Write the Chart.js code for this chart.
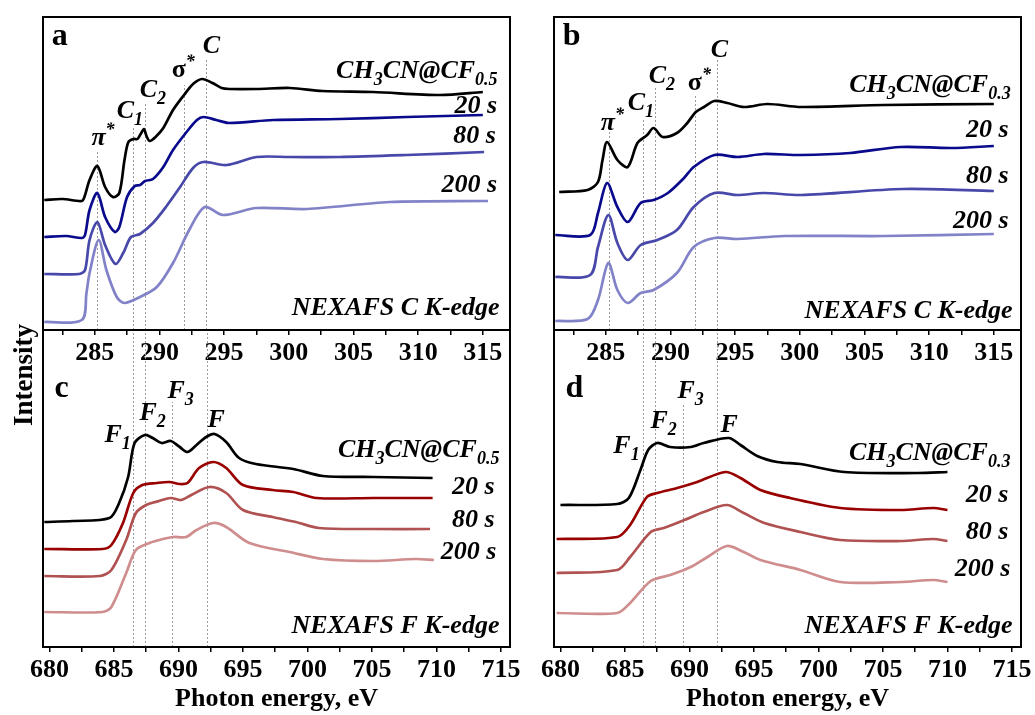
<!DOCTYPE html>
<html>
<head>
<meta charset="utf-8">
<script src="https://cdn.jsdelivr.net/npm/chart.js@4.4.1/dist/chart.umd.min.js"></script>
<style>
  html, body { margin: 0; padding: 0; background: #fff; }
  #wrap { position: relative; width: 1035px; height: 715px; overflow: hidden; }
  canvas { position: absolute; }
  #ylab {
    position: absolute; left: -77px; top: 360px; width: 200px; height: 30px;
    line-height: 30px; text-align: center; transform: rotate(-90deg);
    font: bold 27px "Liberation Serif", "Times New Roman", serif; color: #000;
  }
</style>
</head>
<body>
<div id="wrap">
  <canvas id="pa" width="520" height="372" style="left:0;top:0"></canvas>
  <canvas id="pb" width="524" height="372" style="left:511px;top:0"></canvas>
  <canvas id="pc" width="540" height="395" style="left:0;top:320px"></canvas>
  <canvas id="pd" width="524" height="395" style="left:511px;top:320px"></canvas>
  <div id="ylab">Intensity</div>
</div>
<script>
const SERIF = '"Liberation Serif", "Times New Roman", serif';

/* ── x ticks (eV), only multiples of 5 get a label ── */
const C_TICKS = [282.5, 285, 287.5, 290, 292.5, 295, 297.5, 300, 302.5, 305, 307.5, 310, 312.5, 315];
const F_TICKS = [680, 682.5, 685, 687.5, 690, 692.5, 695, 697.5, 700, 702.5, 705, 707.5, 710, 712.5, 715];

/* ── spectra: [photon energy eV, intensity a.u. (stacked offsets)] ── */
// a: C K-edge, CH3CN@CF0.5
const A_REF = [[281.1,130],[282.5,131],[284.0,129],[284.2,133],[284.6,150],[285.2,164],[285.8,143],[286.4,133],[286.9,137],[287.3,170],[287.6,188],[288.0,191],[288.3,191],[288.55,196],[288.8,201],[289.0,194],[289.25,189],[289.7,193],[290.3,202],[291.05,220],[291.9,235],[292.6,246],[293.3,251],[294.1,247],[294.8,242],[295.4,241],[297.5,241],[300.1,242],[302.6,239],[306.5,238],[311.7,235],[315.0,238]];
const A_20 = [[281.1,93],[282.8,94],[284.0,92],[284.25,95],[284.6,120],[285.2,137],[285.8,113],[286.55,98],[286.9,103],[287.5,133],[288.1,144],[288.5,145],[288.9,149],[289.5,151],[290.3,163],[291.05,180],[292.1,198],[292.9,210],[293.4,213],[294.4,210],[295.4,207],[298.8,210],[303.9,211],[309.1,213],[315.0,215]];
const A_80 = [[281.1,56],[283.8,56],[284.25,60],[284.6,90],[285.2,108],[285.8,85],[286.6,66],[287.2,77],[287.8,93],[288.5,96],[289.5,107],[290.5,123],[291.6,143],[292.6,162],[293.4,168],[295.2,165],[297.5,173],[300.1,173],[303.9,173],[309.1,175],[315.1,178]];
const A_200 = [[281.1,8],[284.0,10],[284.36,37],[284.6,57],[285.3,90],[285.9,60],[286.7,33],[287.3,27],[288.5,33],[289.8,43],[291.05,67],[292.3,100],[293.5,123],[294.9,115],[297.5,122],[301.4,121],[307.8,128],[315.4,129]];

// b: C K-edge, CH3CN@CF0.3
const B_REF = [[281.4,138],[283.6,140],[284.4,148],[284.75,170],[285.1,188],[285.9,170],[286.7,163],[287.45,187],[288.2,195],[288.7,202],[289.4,193],[290.5,197],[291.3,207],[291.96,218],[292.6,223],[293.4,229],[294.4,227],[295.7,223],[297.5,226],[300.1,223],[306.5,225],[315.0,226]];
const B_20 = [[281.1,95],[283.8,95],[284.4,117],[285.1,147],[285.9,123],[286.7,108],[287.7,127],[288.7,130],[289.8,137],[291.05,152],[291.8,163],[293.4,175],[295.2,173],[297.2,176],[300.1,175],[303.9,177],[307.8,183],[311.7,182],[315.0,184]];
const B_80 = [[281.1,53],[283.8,55],[284.4,83],[285.2,115],[285.9,87],[286.7,70],[287.7,85],[289.0,90],[290.5,100],[291.8,123],[293.4,137],[295.2,135],[297.2,137],[300.1,135],[308.0,141],[315.0,139]];
const B_200 = [[281.1,9],[283.6,11],[284.4,30],[285.2,67],[285.9,40],[286.7,27],[287.7,37],[288.7,40],[290.5,57],[291.8,83],[293.4,92],[295.2,91],[298.8,94],[306.5,94],[315.0,96]];

// c: F K-edge, CH3CN@CF0.5
const C_REF = [[679.6,125],[681.8,126],[684.65,129],[685.4,144],[686.1,170],[686.6,204],[687.4,212],[688.0,209],[688.7,204],[689.4,206],[690.1,200],[690.7,195],[691.4,202],[692.15,210],[692.8,213],[693.7,205],[694.7,189],[696.0,183],[698.9,178],[701.2,171],[705.1,170],[709.7,169]];
const C_20 = [[679.6,98],[684.1,98],[684.8,102],[685.7,124],[686.5,154],[687.2,162],[688.3,164],[689.3,165],[690.1,163],[690.7,164],[691.6,179],[692.7,185],[693.7,179],[695.0,162],[697.3,157],[698.9,155],[700.7,149],[705.1,149],[709.7,149]];
const C_80 = [[679.6,71],[683.9,71],[684.8,77],[685.95,107],[686.7,134],[687.5,142],[688.5,146],[689.4,149],[690.2,147],[691.0,152],[692.4,160],[693.7,154],[695.0,137],[697.3,130],[699.1,125],[700.9,119],[705.1,118],[709.5,118]];
const C_200 = [[679.6,35],[684.1,35],[684.8,40],[685.95,74],[686.7,97],[687.75,104],[688.8,108],[689.6,110],[690.6,110],[691.4,117],[692.7,124],[693.7,120],[695.5,104],[698.6,95],[701.2,88],[705.1,86],[708.4,88],[709.8,87]];

// d: F K-edge, CH3CN@CF0.3
const D_REF = [[680.0,142],[684.4,143],[685.3,149],[686.2,177],[686.8,197],[687.5,204],[688.5,200],[690.1,200],[691.1,204],[693.05,209],[693.95,202],[695.25,191],[696.8,185],[698.6,183],[702.0,175],[707.7,174],[710.0,175]];
const D_20 = [[679.7,108],[684.4,110],[685.4,122],[686.7,150],[687.5,154],[689.05,159],[690.6,165],[692.8,175],[693.95,169],[695.5,157],[697.8,149],[701.7,139],[706.4,137],[708.9,139],[710.0,137]];
const D_80 = [[679.7,74],[684.4,77],[685.4,90],[687.0,115],[688.0,119],[689.6,127],[691.1,135],[692.9,142],[694.2,134],[695.8,124],[698.6,115],[701.7,107],[706.4,106],[708.9,108],[710.0,106]];
const D_200 = [[679.7,34],[684.4,34],[685.4,44],[687.0,66],[688.5,72],[690.1,80],[691.4,90],[692.9,101],[694.2,95],[695.5,87],[698.6,77],[701.7,65],[706.4,65],[708.9,67],[710.0,65]];

/* ── peak markers (eV) and how high the dotted line goes ── */
const A_MARKS = [285.18, 287.96, 288.89, 291.88, 293.63], A_MARK_TOP = [178, 204, 227, 245, 272];
const B_MARKS = [285.25, 287.88, 288.81, 291.9, 293.63],  B_MARK_TOP = [198, 212, 242, 235, 272];
const C_MARKS = [686.46, 687.39, 689.51, 692.19],        C_MARK_TOP = [317, 317, 245, 317];
const D_MARKS = [686.38, 687.31, 689.51, 692.15],        D_MARK_TOP = [317, 317, 242, 317];

const BLUES = ['#000000', '#0a0a8c', '#4848aa', '#8282c8'];
const REDS  = ['#000000', '#990000', '#b05252', '#cf8d8d'];

/* ── rich text: '_x' subscript, '^x' superscript, '!x' upright ── */
function t(...segs) {
  return segs.map(s => {
    if (s[0] === '_') return { t: s.slice(1), sub: true };
    if (s[0] === '^') return { t: s.slice(1), sup: true };
    if (s[0] === '!') return { t: s.slice(1), up: true };
    return { t: s };
  });
}
function fontOf(p, size) {
  const s = (p.sub || p.sup) ? Math.round(size * 0.68) : size;
  return (p.up ? '' : 'italic ') + 'bold ' + s + 'px ' + SERIF;
}
function drawRich(ctx, parts, x, y, align, size) {
  const w = parts.map(p => { ctx.font = fontOf(p, size); return ctx.measureText(p.t).width; });
  const total = w.reduce((a, b) => a + b, 0);
  let cx = align === 'right' ? x - total : x;
  parts.forEach((p, i) => {
    ctx.font = fontOf(p, size);
    const dy = p.sub ? size * 0.27 : p.sup ? -size * 0.4 : 0;
    ctx.fillText(p.t, cx, y + dy);
    cx += w[i];
  });
}

function deco(p) {
  return {
    id: 'deco',
    beforeDatasetsDraw(chart) {
      const { ctx, scales: { x, y } } = chart;
      ctx.save();
      ctx.strokeStyle = '#9a9a9a';
      ctx.lineWidth = 1;
      ctx.setLineDash([2, 2]);
      p.marks.forEach((m, i) => {
        const px = Math.round(x.getPixelForValue(m)) + 0.5;
        ctx.beginPath();
        ctx.moveTo(px, y.getPixelForValue(0));
        ctx.lineTo(px, y.getPixelForValue(p.markTop[i]));
        ctx.stroke();
      });
      ctx.restore();
    },
    afterDraw(chart) {
      const { ctx, chartArea: a, scales: { x, y } } = chart;
      ctx.save();
      ctx.strokeStyle = '#000';
      ctx.lineWidth = 2;
      ctx.strokeRect(a.left, a.top, a.right - a.left, a.bottom - a.top);
      ctx.fillStyle = '#000';
      ctx.textBaseline = 'alphabetic';
      p.notes.forEach(n => drawRich(ctx, n.parts, x.getPixelForValue(n.x), y.getPixelForValue(n.y), n.align || 'left', n.size || 26));
      ctx.restore();
    }
  };
}

function makePanel(id, p) {
  return new Chart(document.getElementById(id), {
    type: 'line',
    data: {
      datasets: p.series.map((pts, i) => ({
        data: pts.map(([x, y]) => ({ x, y })),
        borderColor: p.colors[i],
        borderWidth: 2.7,
        pointRadius: 0,
        fill: false,
        tension: 0.3
      }))
    },
    options: {
      responsive: false,
      animation: false,
      events: [],
      layout: { padding: p.pad },
      plugins: { legend: { display: false }, tooltip: { enabled: false } },
      scales: {
        x: {
          type: 'linear',
          min: p.range[0],
          max: p.range[1],
          afterBuildTicks: s => { s.ticks = p.ticks.map(v => ({ value: v })); },
          afterFit: s => { s.height = p.axisH; },
          ticks: {
            autoSkip: false, maxRotation: 0, padding: 3, color: '#000',
            font: { family: SERIF, size: 26, weight: 'bold' },
            callback: v => (v % 5 === 0 ? String(v) : '')
          },
          grid: { drawOnChartArea: false, drawTicks: true, tickLength: 5, color: '#000', lineWidth: 1.5 },
          border: { display: false },
          title: p.title
            ? { display: true, text: p.title, color: '#000', padding: 0, font: { family: SERIF, size: 26, weight: 'bold' } }
            : { display: false }
        },
        y: { display: false, min: 0, max: p.yMax }
      }
    },
    plugins: [deco(p)]
  });
}

makePanel('pa', {
  range: [281, 317.1], yMax: 313, ticks: C_TICKS, axisH: 42,
  pad: { left: 43, top: 17, right: 10, bottom: 0 },
  series: [A_REF, A_20, A_80, A_200], colors: BLUES,
  marks: A_MARKS, markTop: A_MARK_TOP,
  notes: [
    { x: 281.68, y: 285, parts: t('!a'), size: 32 },
    { x: 284.74, y: 185, parts: t('π', '^*') },
    { x: 286.7, y: 212, parts: t('C', '_1') },
    { x: 288.48, y: 233, parts: t('C', '_2') },
    { x: 290.95, y: 253, parts: t('!σ', '^*') },
    { x: 293.35, y: 277, parts: t('C') },
    { x: 316.14, y: 252, parts: t('CH', '_3', 'CN@CF', '_0.5'), align: 'right' },
    { x: 316.1, y: 217, parts: t('20 s'), align: 'right' },
    { x: 316.0, y: 187, parts: t('80 s'), align: 'right' },
    { x: 316.1, y: 138, parts: t('200 s'), align: 'right' },
    { x: 316.3, y: 15, parts: t('NEXAFS C K-edge'), align: 'right' }
  ]
});

makePanel('pb', {
  range: [281, 317.1], yMax: 313, ticks: C_TICKS, axisH: 42,
  pad: { left: 43, top: 17, right: 14, bottom: 0 },
  series: [B_REF, B_20, B_80, B_200], colors: BLUES,
  marks: B_MARKS, markTop: B_MARK_TOP,
  notes: [
    { x: 281.68, y: 285, parts: t('!b'), size: 32 },
    { x: 284.61, y: 200, parts: t('π', '^*') },
    { x: 286.7, y: 220, parts: t('C', '_1') },
    { x: 288.32, y: 247, parts: t('C', '_2') },
    { x: 291.34, y: 240, parts: t('!σ', '^*') },
    { x: 293.11, y: 273, parts: t('C') },
    { x: 316.3, y: 238, parts: t('CH', '_3', 'CN@CF', '_0.3'), align: 'right' },
    { x: 316.14, y: 193, parts: t('20 s'), align: 'right' },
    { x: 316.14, y: 147, parts: t('80 s'), align: 'right' },
    { x: 316.14, y: 102, parts: t('200 s'), align: 'right' },
    { x: 316.45, y: 12, parts: t('NEXAFS C K-edge'), align: 'right' }
  ]
});

makePanel('pc', {
  range: [679.5, 715.7], yMax: 317, ticks: F_TICKS, axisH: 68, title: 'Photon energy, eV',
  pad: { left: 43, top: 10, right: 30, bottom: 0 },
  series: [C_REF, C_20, C_80, C_200], colors: REDS,
  marks: C_MARKS, markTop: C_MARK_TOP,
  notes: [
    { x: 680.39, y: 250, parts: t('!c'), size: 32 },
    { x: 684.26, y: 205, parts: t('F', '_1') },
    { x: 686.98, y: 227, parts: t('F', '_2') },
    { x: 689.15, y: 249, parts: t('F', '_3') },
    { x: 692.25, y: 220, parts: t('F') },
    { x: 714.88, y: 190, parts: t('CH', '_3', 'CN@CF', '_0.5'), align: 'right' },
    { x: 714.5, y: 153, parts: t('20 s'), align: 'right' },
    { x: 714.5, y: 120, parts: t('80 s'), align: 'right' },
    { x: 714.65, y: 88, parts: t('200 s'), align: 'right' },
    { x: 714.88, y: 14, parts: t('NEXAFS F K-edge'), align: 'right' }
  ]
});

makePanel('pd', {
  range: [679.5, 715.7], yMax: 317, ticks: F_TICKS, axisH: 68, title: 'Photon energy, eV',
  pad: { left: 43, top: 10, right: 14, bottom: 0 },
  series: [D_REF, D_20, D_80, D_200], colors: REDS,
  marks: D_MARKS, markTop: D_MARK_TOP,
  notes: [
    { x: 680.39, y: 250, parts: t('!d'), size: 32 },
    { x: 684.1, y: 194, parts: t('F', '_1') },
    { x: 686.98, y: 219, parts: t('F', '_2') },
    { x: 689.07, y: 249, parts: t('F', '_3') },
    { x: 692.4, y: 215, parts: t('F') },
    { x: 714.88, y: 187, parts: t('CH', '_3', 'CN@CF', '_0.3'), align: 'right' },
    { x: 714.73, y: 145, parts: t('20 s'), align: 'right' },
    { x: 714.73, y: 108, parts: t('80 s'), align: 'right' },
    { x: 714.88, y: 71, parts: t('200 s'), align: 'right' },
    { x: 715.04, y: 14, parts: t('NEXAFS F K-edge'), align: 'right' }
  ]
});
</script>
</body>
</html>
